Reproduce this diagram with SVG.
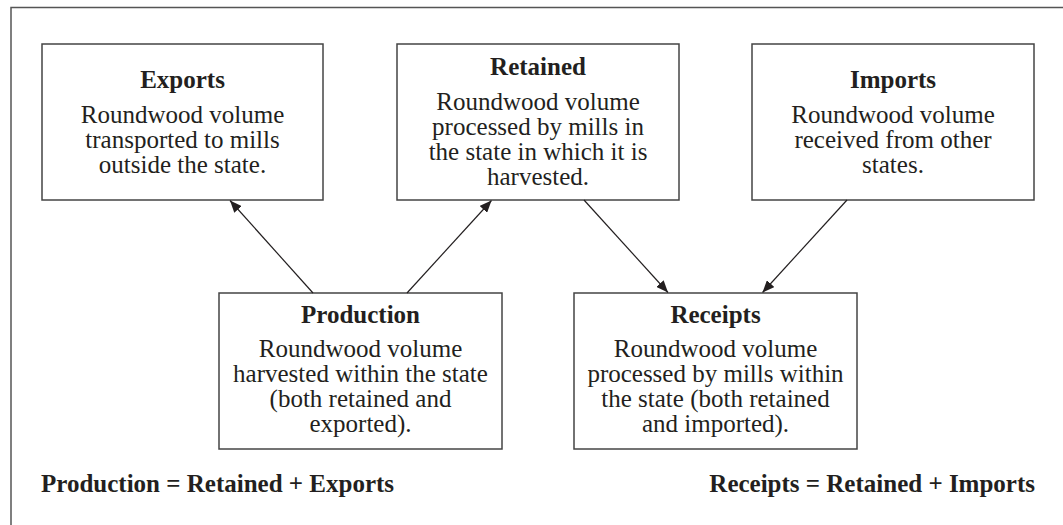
<svg xmlns="http://www.w3.org/2000/svg" width="1063" height="525" viewBox="0 0 1063 525">
<defs>
<style>
.box{fill:#fff;stroke:#444;stroke-width:1.5}
.frame{fill:none;stroke:#555;stroke-width:1.5}
.t{font-family:"Liberation Serif","Times New Roman",serif;font-size:25px;fill:#231f20;text-anchor:middle}
.b{font-weight:bold}
.f{font-family:"Liberation Serif","Times New Roman",serif;font-size:25px;fill:#231f20;font-weight:bold}
.c{stroke:#231f20;stroke-width:1.2;fill:none;marker-end:url(#ah)}
</style>
<marker id="ah" viewBox="0 0 12 10" refX="12" refY="5" markerWidth="12" markerHeight="10" markerUnits="userSpaceOnUse" orient="auto">
<path d="M0,0 L12,5 L0,10 Z" fill="#231f20"/>
</marker>
</defs>
<rect width="1063" height="525" fill="#fff"/>
<path class="frame" d="M11,530 L11,7.5 L1070,7.5"/>
<g id="exports">
<rect class="box" x="42" y="44" width="281" height="156"/>
<text class="t b" x="182.5" y="88">Exports</text>
<text class="t" x="182.5" y="123">Roundwood volume</text>
<text class="t" x="182.5" y="148">transported to mills</text>
<text class="t" x="182.5" y="173">outside the state.</text>
</g>
<g id="retained">
<rect class="box" x="397" y="44" width="282" height="156"/>
<text class="t b" x="538" y="75">Retained</text>
<text class="t" x="538" y="110">Roundwood volume</text>
<text class="t" x="538" y="135">processed by mills in</text>
<text class="t" x="538" y="160">the state in which it is</text>
<text class="t" x="538" y="185">harvested.</text>
</g>
<g id="imports">
<rect class="box" x="752" y="44" width="282" height="156"/>
<text class="t b" x="893" y="88">Imports</text>
<text class="t" x="893" y="123">Roundwood volume</text>
<text class="t" x="893" y="148">received from other</text>
<text class="t" x="893" y="173">states.</text>
</g>
<g id="production">
<rect class="box" x="219" y="293" width="283" height="156"/>
<text class="t b" x="360.5" y="323">Production</text>
<text class="t" x="360.5" y="357">Roundwood volume</text>
<text class="t" x="360.5" y="382">harvested within the state</text>
<text class="t" x="360.5" y="407">(both retained and</text>
<text class="t" x="360.5" y="432">exported).</text>
</g>
<g id="receipts">
<rect class="box" x="574" y="293" width="283" height="156"/>
<text class="t b" x="715.5" y="323">Receipts</text>
<text class="t" x="715.5" y="357">Roundwood volume</text>
<text class="t" x="715.5" y="382">processed by mills within</text>
<text class="t" x="715.5" y="407">the state (both retained</text>
<text class="t" x="715.5" y="432">and imported).</text>
</g>
<g id="connectors">
<line class="c" x1="313" y1="293" x2="230" y2="200.5"/>
<line class="c" x1="407" y1="293" x2="491.5" y2="200.5"/>
<line class="c" x1="584" y1="200" x2="668" y2="292.5"/>
<line class="c" x1="847" y1="200" x2="762.5" y2="292.5"/>
</g>
<g id="formulas">
<text class="f" x="41" y="492">Production = Retained + Exports</text>
<text class="f" x="1035" y="492" text-anchor="end">Receipts = Retained + Imports</text>
</g>
</svg>
